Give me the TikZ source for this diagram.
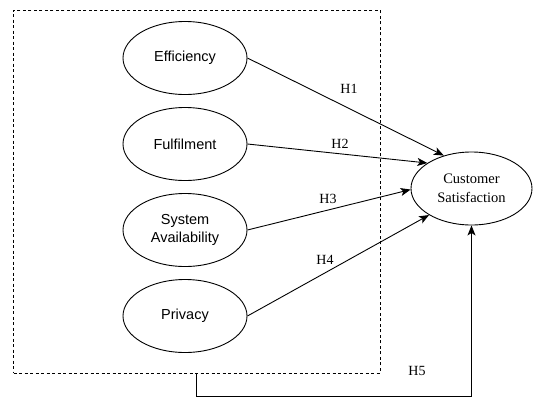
\documentclass[tikz,border=0pt]{standalone}
\usepackage{fontspec}
\setmainfont{Liberation Serif}
\setsansfont{Liberation Sans}
\usetikzlibrary{arrows.meta,shapes.geometric}
\begin{document}
\begin{tikzpicture}[x=1pt,y=-1pt,
  construct/.style={ellipse,draw,line width=0.9pt,minimum width=124pt,minimum height=73pt,inner sep=0pt,
    align=center,font=\sffamily\fontsize{14.5}{18.5}\selectfont},
  outcome/.style={ellipse,draw,line width=0.9pt,minimum width=121pt,minimum height=73pt,inner sep=0pt,
    align=center,font=\rmfamily\fontsize{14.5}{19}\selectfont},
  link/.style={line width=0.9pt,-{Stealth[length=10pt,width=8pt,inset=2.5pt]}},
  hlabel/.style={font=\rmfamily\fontsize{14}{16}\selectfont},
  group/.style={draw,dash pattern=on 3pt off 2.5pt,line width=0.9pt,minimum width=366.4pt,minimum height=363pt,inner sep=0pt}]
\useasboundingbox (0,0) rectangle (533,397);
\node[group] (box) at (196.8,191.5) {};
\node[construct] (eff) at (185,58) {Efficiency};
\node[construct] (ful) at (185,144) {Fulfilment};
\node[construct] (sys) at (185,230) {System\\Availability};
\node[construct] (pri) at (185,316) {Privacy};
\node[outcome] (cs) at (471.5,188.5) {Customer\\Satisfaction};
\draw[link] (eff.east) -- (cs.130);
\draw[link] (ful.east) -- (cs.150);
\draw[link] (sys.east) -- (cs.181);
\draw[link] (pri.east) -- (cs.212);
\draw[link] (box.south) -- ++(0,22.5) -| (cs.south);
\node[hlabel] (h1) at (349,89) {H1};
\node[hlabel] (h2) at (340,144) {H2};
\node[hlabel] (h3) at (328,199) {H3};
\node[hlabel] (h4) at (325,260) {H4};
\node[hlabel] (h5) at (417,371) {H5};
\end{tikzpicture}
\end{document}
